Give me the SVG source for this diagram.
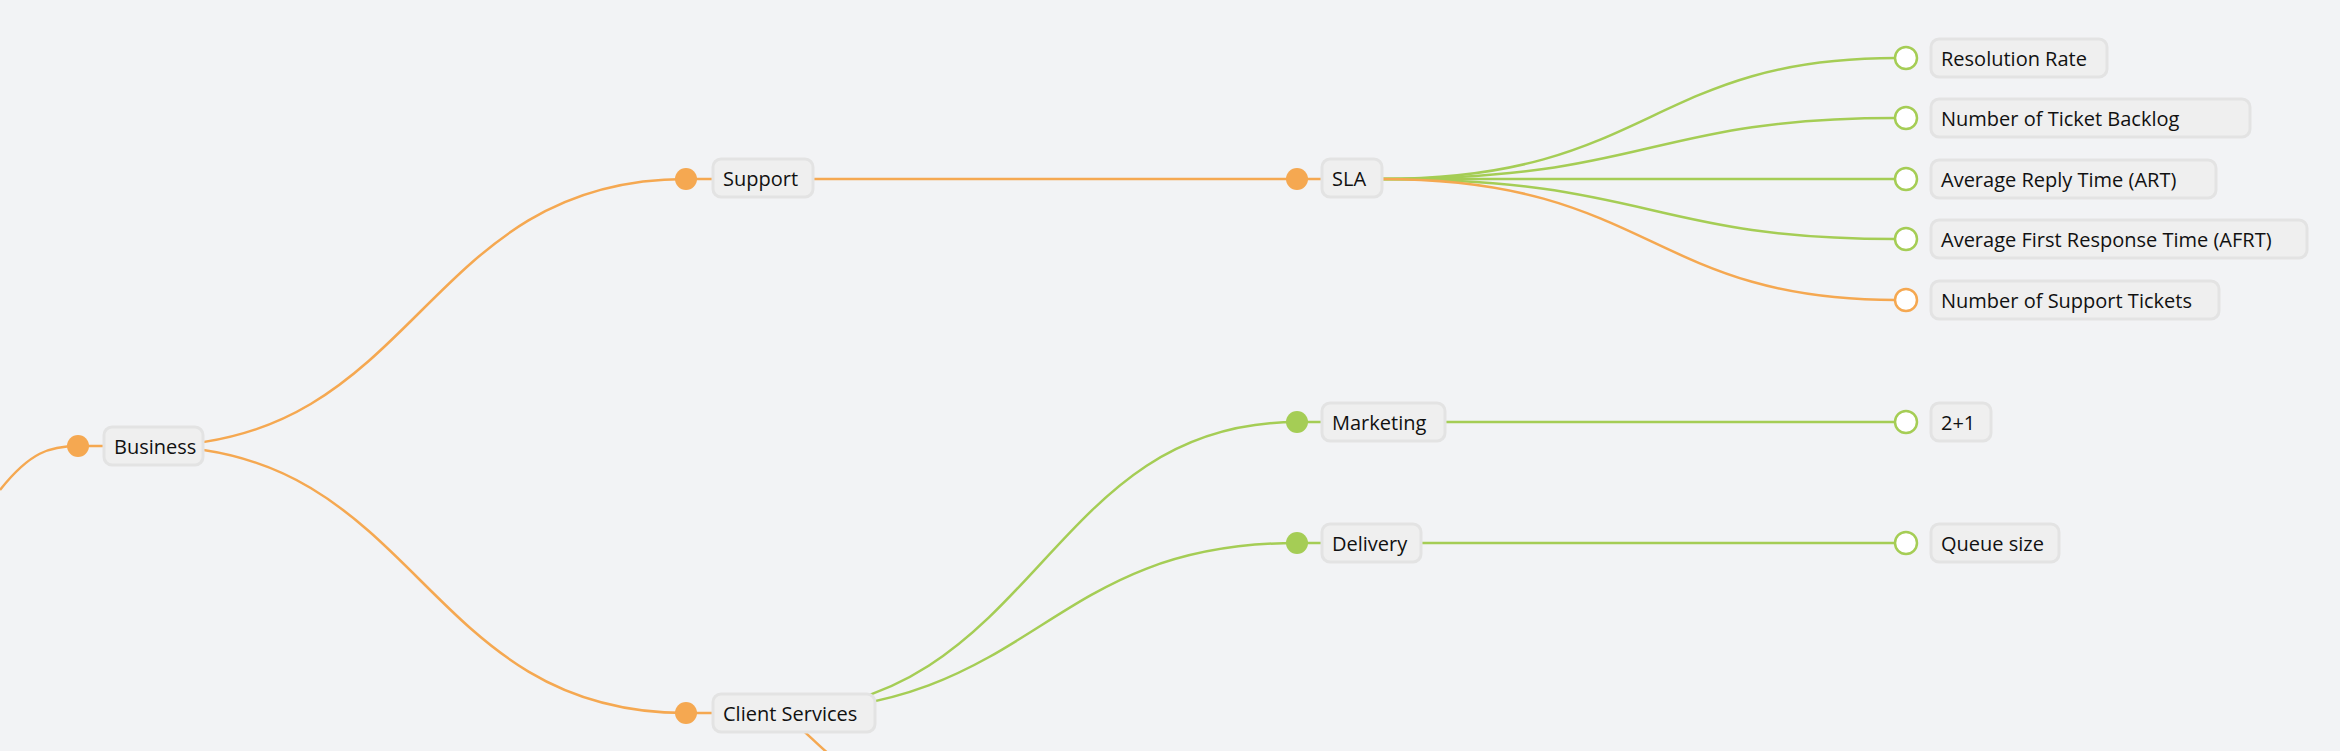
<svg xmlns="http://www.w3.org/2000/svg" width="2340" height="751" viewBox="0 0 2340 751">
<style>
.o{stroke:#F5A851}.g{stroke:#A5CD55}
#edges path{fill:none;stroke-width:2.5}
.box{fill:#EFEFEF;stroke:#E3E3E3;stroke-width:3}
.t{font-family:"Open Sans","Noto Sans",sans-serif;font-size:20px;fill:#111;dominant-baseline:central}
.dO{fill:#F5A851}.dG{fill:#A5CD55}
.lO{fill:#fff;stroke:#F5A851;stroke-width:2.5}.lG{fill:#fff;stroke:#A5CD55;stroke-width:2.5}
</style>
<rect width="2340" height="751" fill="#F2F3F5"/>
<g id="edges">
<path class="o" d="M0,490 C30,452 50,446 78,446 L104,446"/>
<path class="o" d="M150,446 C420,446 420,179 686,179 L713,179"/>
<path class="o" d="M150,446 C420,446 420,713 686,713 L713,713"/>
<path class="o" d="M780,713 C800,725 810,738 830,755"/>
<path class="o" d="M813,179 L1322,179"/>
<path class="g" d="M760,713 C1040,713 1040,422 1297,422 L1322,422"/>
<path class="g" d="M760,713 C1040,713 1040,543 1297,543 L1322,543"/>
<path class="g" d="M1382,179 C1650,179 1650,58 1896,58"/>
<path class="g" d="M1382,179 C1650,179 1650,118 1896,118"/>
<path class="g" d="M1382,179 L1896,179"/>
<path class="g" d="M1382,179 C1650,179 1650,239 1896,239"/>
<path class="o" d="M1382,179 C1650,179 1650,300 1896,300"/>
<path class="g" d="M1445,422 L1896,422"/>
<path class="g" d="M1421,543 L1896,543"/>
</g>
<g id="business"><circle class="dO" cx="78" cy="446" r="11"/><rect class="box" x="104" y="427" width="99" height="38" rx="8"/><text class="t" x="114" y="446">Business</text></g>
<g id="support"><circle class="dO" cx="686" cy="179" r="11"/><rect class="box" x="713" y="159" width="100" height="38" rx="8"/><text class="t" x="723" y="178">Support</text></g>
<g id="client"><circle class="dO" cx="686" cy="713" r="11"/><rect class="box" x="713" y="694" width="162" height="38" rx="8"/><text class="t" x="723" y="713">Client Services</text></g>
<g id="sla"><circle class="dO" cx="1297" cy="179" r="11"/><rect class="box" x="1322" y="159" width="60" height="38" rx="8"/><text class="t" x="1332" y="178">SLA</text></g>
<g id="marketing"><circle class="dG" cx="1297" cy="422" r="11"/><rect class="box" x="1322" y="403" width="123" height="38" rx="8"/><text class="t" x="1332" y="422">Marketing</text></g>
<g id="delivery"><circle class="dG" cx="1297" cy="543" r="11"/><rect class="box" x="1322" y="524" width="99" height="38" rx="8"/><text class="t" x="1332" y="543">Delivery</text></g>
<g id="l1"><circle class="lG" cx="1906" cy="58" r="11"/><rect class="box" x="1931" y="39" width="176" height="38" rx="8"/><text class="t" x="1941" y="58">Resolution Rate</text></g>
<g id="l2"><circle class="lG" cx="1906" cy="118" r="11"/><rect class="box" x="1931" y="99" width="319" height="38" rx="8"/><text class="t" x="1941" y="118">Number of Ticket Backlog</text></g>
<g id="l3"><circle class="lG" cx="1906" cy="179" r="11"/><rect class="box" x="1931" y="160" width="285" height="38" rx="8"/><text class="t" x="1941" y="179">Average Reply Time (ART)</text></g>
<g id="l4"><circle class="lG" cx="1906" cy="239" r="11"/><rect class="box" x="1931" y="220" width="376" height="38" rx="8"/><text class="t" x="1941" y="239">Average First Response Time (AFRT)</text></g>
<g id="l5"><circle class="lO" cx="1906" cy="300" r="11"/><rect class="box" x="1931" y="281" width="288" height="38" rx="8"/><text class="t" x="1941" y="300">Number of Support Tickets</text></g>
<g id="l6"><circle class="lG" cx="1906" cy="422" r="11"/><rect class="box" x="1931" y="403" width="60" height="38" rx="8"/><text class="t" x="1941" y="422">2+1</text></g>
<g id="l7"><circle class="lG" cx="1906" cy="543" r="11"/><rect class="box" x="1931" y="524" width="128" height="38" rx="8"/><text class="t" x="1941" y="543">Queue size</text></g>
</svg>
